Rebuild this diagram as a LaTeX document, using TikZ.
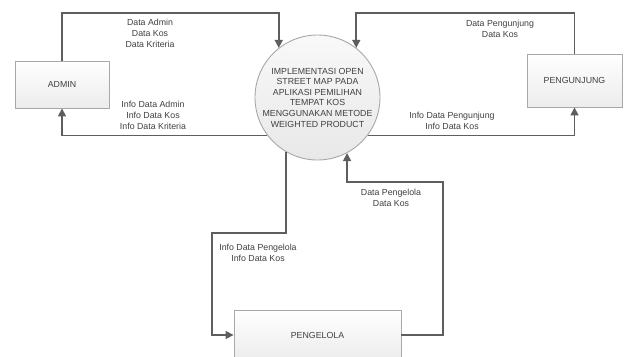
\documentclass[tikz,border=0pt]{standalone}
\usepackage{fontspec}
\setmainfont{Liberation Sans}
\usetikzlibrary{arrows.meta}
\definecolor{linec}{HTML}{5E5E5E}
\definecolor{textc}{HTML}{404040}
\definecolor{borderc}{HTML}{A8A8A8}
\tikzset{
  entity/.style={draw=borderc, line width=0.9pt, top color=white, bottom color=gray!15, inner sep=0pt, font=\fontsize{8.8}{10.5}\selectfont, text=textc},
  process/.style={circle, draw=borderc, line width=0.9pt, top color=gray!5, bottom color=gray!18, minimum size=125pt, inner sep=0pt, font=\fontsize{8.8}{10.6}\selectfont, text=textc, align=center},
  flow/.style={draw=linec, line width=1.6pt, -{Triangle[length=8pt,width=8pt]}},
  lbl/.style={font=\fontsize{8.8}{11}\selectfont, text=textc, align=center, inner sep=0pt}
}
\begin{document}
\begin{tikzpicture}[x=1pt,y=-1pt]
\useasboundingbox (0,0) rectangle (626,356);
\clip (0,0) rectangle (626,356);
\fill[white] (0,0) rectangle (626,356);
\node[process] (proc) at (317.5,97.5) {IMPLEMENTASI OPEN\\STREET MAP PADA\\APLIKASI PEMILIHAN\\TEMPAT KOS\\MENGGUNAKAN METODE\\WEIGHTED PRODUCT};
\node[entity, minimum width=94pt, minimum height=47pt] (admin) at (62,84.5) {ADMIN};
\node[entity, minimum width=95pt, minimum height=53pt] (peng) at (574.5,80.5) {PENGUNJUNG};
\node[entity, minimum width=167pt, minimum height=50pt] (kelola) at (317.5,335) {PENGELOLA};
\coordinate (a1) at (62,13);
\coordinate (p1) at (574.5,13);
\coordinate (b1) at (212,233);
\coordinate (b2) at (443,182);
\draw[flow] (admin.north) -- (a1) -| (proc.128);
\draw[flow] (proc.217) -| (admin.south);
\draw[flow] (peng.north) -- (p1) -| (proc.52);
\draw[flow] (proc.323) -| (peng.south);
\draw[flow] (proc.240) |- (b1) |- (kelola.west);
\draw[flow] (kelola.east) -| (b2) -| (proc.298);
\node[lbl] (l1) at (150,33) {Data Admin\\Data Kos\\Data Kriteria};
\node[lbl] (l2) at (153,115) {Info Data Admin\\Info Data Kos\\Info Data Kriteria};
\node[lbl] (l3) at (500,28.5) {Data Pengunjung\\Data Kos};
\node[lbl] (l4) at (452,120.5) {Info Data Pengunjung\\Info Data Kos};
\node[lbl] (l5) at (391,197.5) {Data Pengelola\\Data Kos};
\node[lbl] (l6) at (258,252.5) {Info Data Pengelola\\Info Data Kos};
\end{tikzpicture}
\end{document}
